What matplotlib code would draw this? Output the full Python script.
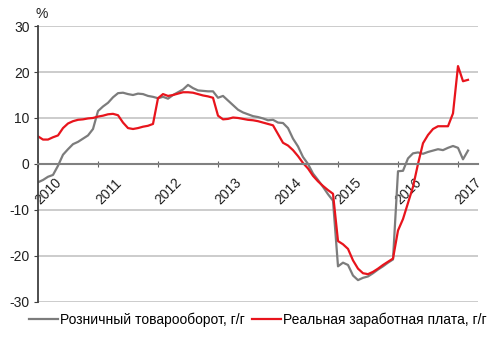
import matplotlib
matplotlib.use("Agg")
from matplotlib import pyplot as plt
from matplotlib.transforms import ScaledTranslation

plt.rcParams['font.family'] = ['Liberation Sans', 'DejaVu Sans']
plt.rcParams['axes.unicode_minus'] = False

# monthly, January 2010 .. March 2017, % y/y
retail = [-4.0, -3.5, -2.8, -2.4, -0.4, 2.0, 3.2, 4.3, 4.8, 5.5, 6.2, 7.6,
          11.5, 12.5, 13.3, 14.5, 15.4, 15.5, 15.2, 15.0, 15.3, 15.2, 14.8, 14.6,
          14.3, 14.6, 14.2, 15.0, 15.6, 16.2, 17.2, 16.5, 16.0, 15.9, 15.8, 15.8,
          14.4, 14.8, 13.8, 12.8, 11.8, 11.2, 10.8, 10.4, 10.2, 9.9, 9.5, 9.6,
          9.0, 8.9, 7.8, 5.5, 3.8, 1.5, 0.0, -2.1, -3.5, -5.0, -6.6, -8.0,
          -22.3, -21.5, -22.0, -24.3, -25.3, -24.8, -24.5, -23.8, -23.0, -22.3, -21.5, -20.8,
          -1.6, -1.5, 1.2, 2.3, 2.5, 2.2, 2.6, 2.9, 3.2, 3.0, 3.5, 3.9,
          3.5, 1.0, 2.9]
wages = [6.0, 5.3, 5.3, 5.8, 6.2, 7.8, 8.8, 9.3, 9.6, 9.7, 9.9, 10.0,
         10.3, 10.5, 10.8, 10.9, 10.6, 9.0, 7.8, 7.6, 7.8, 8.1, 8.3, 8.7,
         14.3, 15.2, 14.8, 15.0, 15.3, 15.6, 15.6, 15.5, 15.2, 14.9, 14.7, 14.4,
         10.5, 9.7, 9.8, 10.1, 10.0, 9.8, 9.6, 9.5, 9.3, 9.0, 8.7, 8.4,
         6.5, 4.6, 4.0, 3.0, 1.7, 0.2, -1.0, -2.6, -3.8, -4.8, -5.7, -6.5,
         -16.8, -17.5, -18.5, -21.0, -22.8, -23.8, -24.0, -23.5, -22.8, -22.0, -21.3, -20.6,
         -14.5, -12.0, -8.5, -5.0, 0.0, 4.5, 6.3, 7.6, 8.2, 8.2, 8.2, 11.0,
         21.3, 18.0, 18.3]
years = ['2010', '2011', '2012', '2013', '2014', '2015', '2016', '2017']
months = list(range(len(retail)))

fig = plt.figure(figsize=(5.0, 3.39), dpi=100)
ax = fig.add_axes([0.076, 0.110, 0.880, 0.813])

ax.plot(months, retail, color='#7c7c7c', lw=1.6, label='Розничный товарооборот, г/г')
ax.plot(months, wages, color='#e8141c', lw=1.6, label='Реальная заработная плата, г/г')

ax.set_xlim(0, 88)
ax.set_ylim(-30, 30)
ax.set_yticks(range(-30, 31, 10))
ax.yaxis.grid(True, color='#c8c8c8', lw=1.3)
ax.set_axisbelow(True)

for side in ['top', 'right']:
    ax.spines[side].set_visible(False)
ax.spines['left'].set_color('#404040')
ax.spines['left'].set_linewidth(1.3)
ax.spines['bottom'].set_position(('data', 0))
ax.spines['bottom'].set_color('#808080')
ax.spines['bottom'].set_linewidth(1.5)

ax.tick_params(axis='y', direction='out', length=3, color='#404040',
               labelsize=10, labelcolor='#202020', pad=3)
ax.tick_params(axis='x', direction='inout', length=5, color='#606060',
               labelsize=10, labelcolor='#202020', pad=6)

ax.set_xticks([12 * i for i in range(len(years))])
ax.set_xticklabels(years, rotation=45, ha='right', va='top')
shift = ScaledTranslation(0.26, 0, fig.dpi_scale_trans)
for lbl in ax.get_xticklabels():
    lbl.set_transform(lbl.get_transform() + shift)

fig.text(0.071, 0.958, '%', fontsize=10, color='#202020', ha='left', va='center')

fig.legend(loc='center', bbox_to_anchor=(0.515, 0.056), ncol=2, frameon=False,
           fontsize=10, handlelength=2.1, handletextpad=0.15, columnspacing=0.5)

fig.savefig('out.png', dpi=100)
